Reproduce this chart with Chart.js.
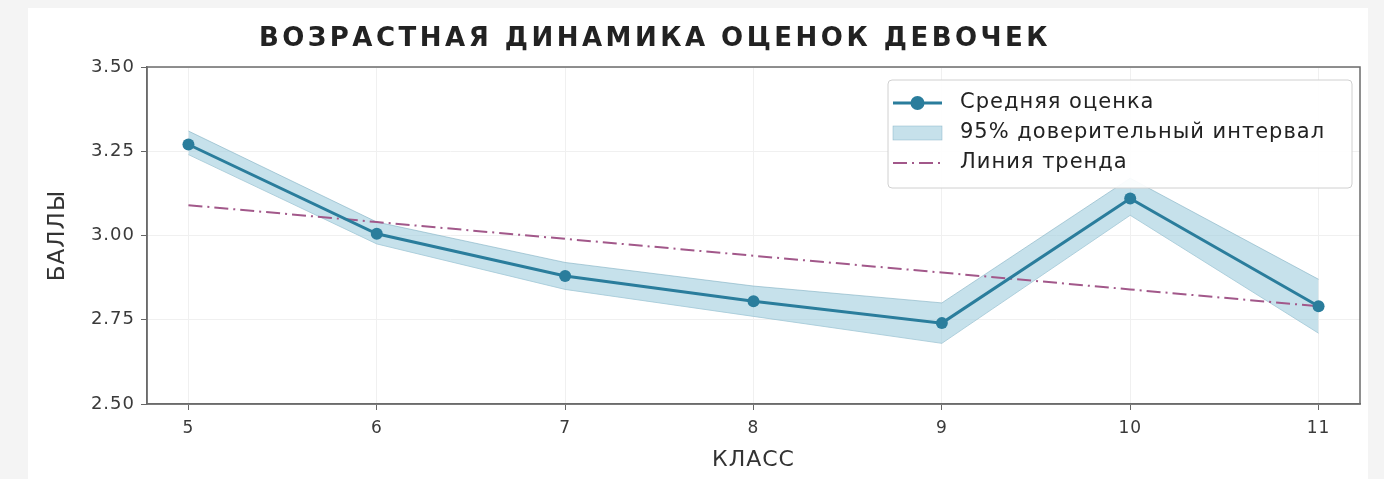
<!DOCTYPE html>
<html lang="ru">
<head>
<meta charset="utf-8">
<title>Возрастная динамика оценок девочек</title>
<script src="https://cdn.jsdelivr.net/npm/chart.js@4.4.1/dist/chart.umd.min.js"></script>
<style>
  html, body { margin: 0; padding: 0; background: #f4f4f4; }
  #wrap { position: relative; width: 1384px; height: 479px; overflow: hidden; }
  #card { position: absolute; left: 28px; top: 8px; width: 1340px; height: 480px; background: #fff; }
  #chart { position: absolute; left: 0; top: 0; }
  #title {
    position: absolute; left: 0; width: 1310px; top: 22px; text-align: center;
    font: bold 26px "DejaVu Sans", sans-serif; letter-spacing: 3.5px; color: #222;
  }
</style>
</head>
<body>
<div id="wrap">
  <div id="card"></div>
  <canvas id="chart" width="1384" height="479"></canvas>
  <div id="title">ВОЗРАСТНАЯ ДИНАМИКА ОЦЕНОК ДЕВОЧЕК</div>
</div>
<script>
// Data
const grades = [5, 6, 7, 8, 9, 10, 11];
const meanScore = [3.27, 3.005, 2.88, 2.805, 2.74, 3.11, 2.79];
const ciUpper = [3.31, 3.04, 2.92, 2.85, 2.80, 3.17, 2.87];
const ciLower = [3.24, 2.975, 2.84, 2.76, 2.68, 3.06, 2.71];
const trendScore = [3.09, 3.04, 2.99, 2.94, 2.89, 2.84, 2.79];
const yTicks = [2.5, 2.75, 3.0, 3.25, 3.5];

const legendLabels = ['Средняя оценка', '95% доверительный интервал', 'Линия тренда'];

const lineColor = '#2a7d9c';
const bandColor = 'rgba(160, 205, 222, 0.6)';
const bandEdge = 'rgba(120, 170, 190, 0.7)';
const trendColor = '#a2588a';

const pts = arr => arr.map((v, i) => ({ x: grades[i], y: v }));

// a bit of letter spacing for the axis texts, like the original
const spacingPlugin = {
  id: 'spacing',
  beforeDraw(chart) { chart.ctx.letterSpacing = '1px'; },
  afterDraw(chart) { chart.ctx.letterSpacing = '0px'; }
};

// Frame around the plot area (top and right sides too)
const framePlugin = {
  id: 'frame',
  afterDatasetsDraw(chart) {
    const { ctx, chartArea: a } = chart;
    ctx.save();
    ctx.strokeStyle = '#6b6b6b';
    ctx.lineWidth = 1.5;
    ctx.strokeRect(a.left, a.top, a.right - a.left, a.bottom - a.top);
    ctx.restore();
  }
};

// Legend box inside the plot, top right
const legendPlugin = {
  id: 'boxLegend',
  afterDraw(chart) {
    const { ctx } = chart;
    const x = 888, y = 80, w = 464, h = 108;
    ctx.save();
    ctx.fillStyle = 'rgba(255,255,255,0.92)';
    ctx.strokeStyle = '#d0d0d0';
    ctx.lineWidth = 1;
    ctx.beginPath();
    ctx.roundRect(x, y, w, h, 4);
    ctx.fill();
    ctx.stroke();

    const lx0 = 893, lx1 = 942, tx = 960;
    const rows = [103, 133, 163];

    // mean line with marker
    ctx.strokeStyle = lineColor;
    ctx.lineWidth = 3;
    ctx.beginPath(); ctx.moveTo(lx0, rows[0]); ctx.lineTo(lx1, rows[0]); ctx.stroke();
    ctx.fillStyle = lineColor;
    ctx.beginPath(); ctx.arc((lx0 + lx1) / 2, rows[0], 7, 0, Math.PI * 2); ctx.fill();

    // band patch
    ctx.fillStyle = bandColor;
    ctx.fillRect(lx0, rows[1] - 7, lx1 - lx0, 14);
    ctx.strokeStyle = bandEdge;
    ctx.lineWidth = 0.6;
    ctx.strokeRect(lx0, rows[1] - 7, lx1 - lx0, 14);

    // trend dash-dot
    ctx.strokeStyle = trendColor;
    ctx.lineWidth = 2;
    ctx.setLineDash([14, 5, 2, 5]);
    ctx.beginPath(); ctx.moveTo(lx0, rows[2]); ctx.lineTo(lx1, rows[2]); ctx.stroke();
    ctx.setLineDash([]);

    ctx.fillStyle = '#222';
    ctx.letterSpacing = '1px';
    ctx.font = '21px "DejaVu Sans", sans-serif';
    ctx.textBaseline = 'middle';
    legendLabels.forEach((t, i) => ctx.fillText(t, tx, rows[i]));
    ctx.restore();
  }
};

new Chart(document.getElementById('chart'), {
  type: 'line',
  data: {
    datasets: [
      {
        label: legendLabels[0],
        data: pts(meanScore),
        order: 0,
        borderColor: lineColor,
        backgroundColor: lineColor,
        borderWidth: 3,
        pointRadius: 6,
        pointBorderWidth: 0,
        fill: false,
        clip: false,
        tension: 0
      },
      {
        label: legendLabels[2],
        data: pts(trendScore),
        order: 1,
        borderColor: trendColor,
        borderWidth: 2,
        borderDash: [14, 5, 2, 5],
        pointRadius: 0,
        fill: false,
        tension: 0
      },
      {
        label: 'upper',
        data: pts(ciUpper),
        order: 2,
        borderColor: bandEdge,
        borderWidth: 0.8,
        pointRadius: 0,
        backgroundColor: bandColor,
        fill: '+1',
        tension: 0
      },
      {
        label: 'lower',
        data: pts(ciLower),
        order: 3,
        borderColor: bandEdge,
        borderWidth: 0.8,
        pointRadius: 0,
        fill: false,
        tension: 0
      }
    ]
  },
  options: {
    responsive: false,
    animation: false,
    layout: { padding: { top: 67, right: 24, left: 0, bottom: 0 } },
    plugins: {
      legend: { display: false },
      title: { display: false },
      tooltip: { enabled: false }
    },
    scales: {
      x: {
        type: 'linear',
        min: 4.78,
        max: 11.22,
        afterBuildTicks: s => { s.ticks = grades.map(v => ({ value: v })); },
        afterFit: s => { s.height = 75; },
        ticks: {
          color: '#3a3a3a',
          font: { size: 17, family: '"DejaVu Sans", sans-serif' },
          padding: 8
        },
        grid: { color: '#f0f0f0', tickColor: '#666', tickLength: 6, lineWidth: 1 },
        border: { color: '#6b6b6b', width: 1.5 },
        title: {
          display: true,
          text: 'КЛАСС',
          color: '#333',
          font: { size: 22, family: '"DejaVu Sans", sans-serif' },
          padding: { top: 4, bottom: 6 }
        }
      },
      y: {
        min: 2.5,
        max: 3.5,
        afterBuildTicks: s => { s.ticks = yTicks.map(v => ({ value: v })); },
        afterFit: s => { s.width = 147; },
        ticks: {
          color: '#3a3a3a',
          font: { size: 18, family: '"DejaVu Sans", sans-serif' },
          padding: 6,
          callback: v => v.toFixed(2)
        },
        grid: { color: '#f0f0f0', tickColor: '#666', tickLength: 6, lineWidth: 1 },
        border: { color: '#6b6b6b', width: 1.5 },
        title: {
          display: true,
          text: 'БАЛЛЫ',
          color: '#333',
          font: { size: 23, family: '"DejaVu Sans", sans-serif' },
          padding: { top: 44, bottom: 0 }
        }
      }
    }
  },
  plugins: [spacingPlugin, framePlugin, legendPlugin]
});
</script>
</body>
</html>
